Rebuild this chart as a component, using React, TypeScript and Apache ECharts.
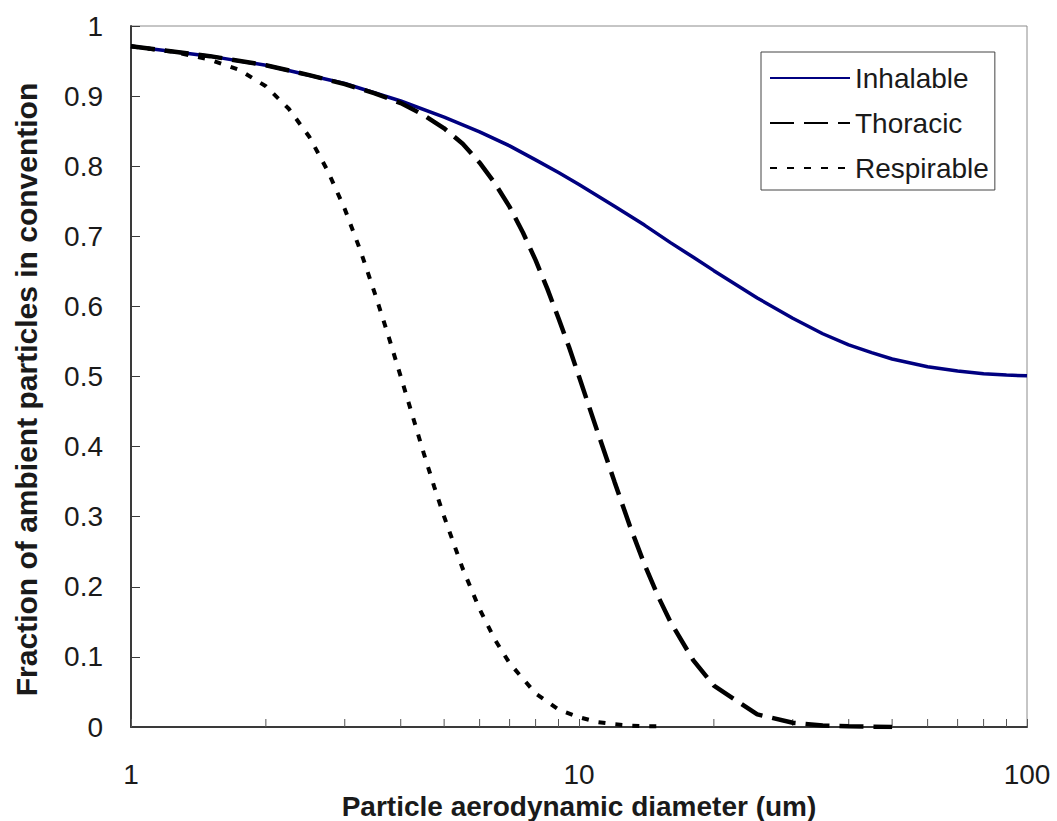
import React, { useEffect, useRef } from "react";
import * as echarts from "echarts";

const inhalableD = [1, 1.5, 2, 3, 4, 5, 6, 7, 8, 9, 10, 12, 14, 16, 18, 20, 25, 30, 35, 40, 45, 50, 60, 70, 80, 90, 100];
const inhalable = [0.971, 0.957, 0.944, 0.918, 0.893, 0.870, 0.849, 0.829, 0.809, 0.791, 0.774, 0.743, 0.716, 0.691, 0.670, 0.651, 0.612, 0.583, 0.561, 0.545, 0.534, 0.525, 0.514, 0.508, 0.504, 0.502, 0.501];

const thoracicD = [1, 1.5, 2, 2.5, 3, 3.5, 4, 4.5, 5, 5.5, 6, 6.5, 7, 7.5, 8, 8.5, 9, 9.5, 10, 11, 12, 13, 14, 15, 16, 18, 20, 25, 30, 35, 40, 50];
const thoracic = [0.971, 0.957, 0.944, 0.930, 0.917, 0.904, 0.890, 0.873, 0.854, 0.832, 0.805, 0.775, 0.742, 0.705, 0.666, 0.625, 0.583, 0.542, 0.500, 0.421, 0.350, 0.286, 0.232, 0.187, 0.150, 0.095, 0.059, 0.018, 0.006, 0.002, 0.001, 0.000];

const respirableD = [1, 1.25, 1.5, 1.75, 2, 2.25, 2.5, 2.75, 3, 3.25, 3.5, 3.75, 4, 4.25, 4.5, 4.75, 5, 5.5, 6, 6.5, 7, 8, 9, 10, 11, 12, 13, 14, 15];
const respirable = [0.971, 0.963, 0.952, 0.937, 0.914, 0.882, 0.842, 0.793, 0.739, 0.680, 0.619, 0.559, 0.500, 0.444, 0.391, 0.343, 0.300, 0.226, 0.168, 0.124, 0.091, 0.048, 0.025, 0.014, 0.007, 0.004, 0.002, 0.001, 0.001];

const minorTickValues = [2, 3, 4, 5, 6, 7, 8, 9, 20, 30, 40, 50, 60, 70, 80, 90];

const seriesNames = ["Inhalable", "Thoracic", "Respirable"];
const xName = "Particle aerodynamic diameter (um)";
const yName = "Fraction of ambient particles in convention";

const FONT = "'Liberation Sans', Arial, sans-serif";
const TEXT = "#1a1a1a";

function pairs(xs: number[], ys: number[]) {
  return xs.map((x, i) => [x, ys[i]]);
}

export default function App() {
  const ref = useRef<HTMLDivElement>(null);
  useEffect(() => {
    if (!ref.current) return;
    const chart = echarts.init(ref.current, null, { renderer: "svg" });
    chart.setOption({
      animation: false,
      backgroundColor: "#ffffff",
      textStyle: { fontFamily: FONT },
      grid: {
        left: 131,
        right: 30,
        top: 26,
        bottom: 94,
        show: true,
        borderColor: "#8c8c8c",
        borderWidth: 1,
        backgroundColor: "transparent",
        containLabel: false,
        outerBoundsMode: "none",
      },
      legend: {
        orient: "vertical",
        left: 761,
        top: 52,
        itemWidth: 80,
        itemHeight: 14,
        itemGap: 13,
        padding: [10, 6, 6, 8],
        borderColor: "#444",
        borderWidth: 1,
        backgroundColor: "#fff",
        data: seriesNames,
        itemStyle: { opacity: 0 },
        textStyle: { fontSize: 28, color: TEXT, fontFamily: FONT, lineHeight: 32 },
      },
      xAxis: {
        type: "log",
        logBase: 10,
        min: 1,
        max: 100,
        name: xName,
        nameLocation: "middle",
        nameGap: 58,
        nameTextStyle: { fontSize: 28, fontWeight: "bold", color: TEXT, fontFamily: FONT, lineHeight: 28 },
        axisLine: { show: true, lineStyle: { color: "#3a3a3a", width: 2 } },
        axisTick: { show: true, inside: true, length: 8, lineStyle: { color: "#555", width: 1 } },
        axisLabel: { fontSize: 28, color: TEXT, margin: 33, fontFamily: FONT },
        splitLine: { show: false },
        minorTick: { show: false },
      },
      yAxis: {
        type: "value",
        min: 0,
        max: 1,
        interval: 0.1,
        name: yName,
        nameLocation: "middle",
        nameGap: 90,
        nameTextStyle: {
          fontSize: 30,
          fontWeight: "bold",
          color: TEXT,
          fontFamily: FONT,
          padding: [0, 26, 0, 0],
        },
        axisLine: { show: true, lineStyle: { color: "#3a3a3a", width: 2 } },
        axisTick: { show: true, inside: true, length: 9, lineStyle: { color: "#3a3a3a", width: 1 } },
        axisLabel: {
          fontSize: 28,
          color: TEXT,
          margin: 28,
          fontFamily: FONT,
          formatter: (v: number) => String(+v.toFixed(1)),
        },
        splitLine: { show: false },
      },
      series: [
        {
          type: "custom",
          name: "minorTicks",
          silent: true,
          data: minorTickValues.map((v) => [v, 0]),
          encode: { x: 0, y: 1 },
          renderItem: (_params: any, api: any) => {
            const p = api.coord([api.value(0), 0]);
            return {
              type: "line",
              shape: { x1: p[0], y1: p[1], x2: p[0], y2: p[1] - 8 },
              style: { stroke: "#555", lineWidth: 1 },
            };
          },
          z: 1,
        },
        {
          type: "line",
          name: seriesNames[0],
          data: pairs(inhalableD, inhalable),
          symbol: "none",
          lineStyle: { color: "#000080", width: 3.5 },
          itemStyle: { color: "#000080" },
          z: 2,
        },
        {
          type: "line",
          name: seriesNames[1],
          data: pairs(thoracicD, thoracic),
          symbol: "none",
          lineStyle: { color: "#000000", width: 4.5, type: [24, 10] },
          itemStyle: { color: "#000000" },
          z: 3,
        },
        {
          type: "line",
          name: seriesNames[2],
          data: pairs(respirableD, respirable),
          symbol: "none",
          lineStyle: { color: "#000000", width: 4, type: [7, 10] },
          itemStyle: { color: "#000000" },
          z: 4,
        },
      ],
    });
    return () => chart.dispose();
  }, []);
  return (
    <div
      ref={ref}
      style={{ position: "absolute", left: 0, top: 0, width: 1057, height: 821, background: "#fff" }}
    />
  );
}
